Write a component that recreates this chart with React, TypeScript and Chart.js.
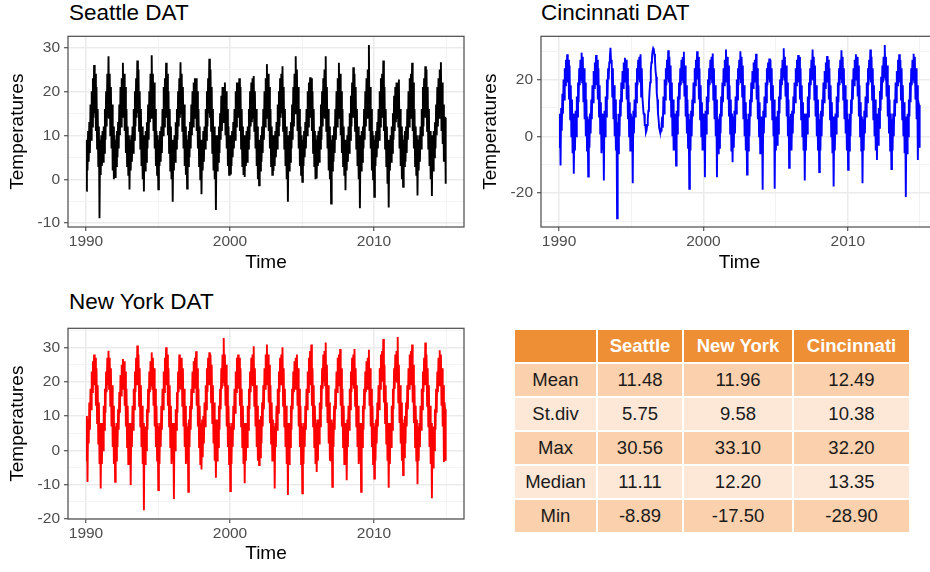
import React, { useEffect, useRef } from 'react';
import Chart from 'chart.js/auto';

// ---------- data ----------
const YEARS = [1990, 1991, 1992, 1993, 1994, 1995, 1996, 1997, 1998, 1999, 2000, 2001, 2002,
  2003, 2004, 2005, 2006, 2007, 2008, 2009, 2010, 2011, 2012, 2013, 2014];

// two readings per month (Jan..Dec, 24 per year), degrees C
const SEATTLE: number[][] = [
  [-2.6, 9, 2, 11, 4, 13, 6, 17, 9, 20, 12, 23, 14, 26.0, 15, 24, 11, 21, 7, 16, 3, 12, -8.89, 9],
  [1, 10, 3, 11, 4, 12, 6, 16, 9, 20, 12, 24, 14, 28.0, 14, 24, 10, 21, 7, 17, 2, 12, 0, 10],
  [0.5, 9, 3, 11, 5, 13, 7, 17, 10, 21, 12, 23, 15, 26.5, 14, 24, 11, 21, 6, 16, 3, 12, 1, 10],
  [-2.3, 9, 2, 10, 4, 12, 6, 16, 9, 20, 12, 23, 14, 27.0, 15, 25, 11, 20, 7, 16, 3, 12, 0, 9],
  [-2.8, 10, 2, 11, 4, 13, 7, 17, 9, 20, 13, 24, 14, 28.2, 14, 24, 11, 22, 7, 16, 3, 11, 1, 10],
  [-2.3, 9, 3, 11, 4, 12, 6, 16, 10, 21, 12, 23, 15, 26.5, 14, 24, 10, 20, 6, 16, 2, 12, 0, 9],
  [-5.1, 8, 2, 10, 4, 13, 7, 16, 9, 20, 12, 23, 14, 26.6, 15, 24, 11, 21, 7, 17, 3, 12, 1, 10],
  [-2.1, 9, 3, 11, 5, 13, 7, 17, 10, 20, 12, 22, 14, 23.0, 14, 23, 11, 20, 7, 16, 3, 12, 0, 9],
  [-3.4, 9, 2, 11, 4, 12, 7, 16, 9, 20, 12, 23, 15, 27.4, 14, 25, 11, 21, 6, 16, 2, 12, 0, 10],
  [-7.0, 9, 2, 10, 4, 12, 6, 15, 9, 19, 11, 21, 13, 21, 14, 22.0, 10, 20, 7, 16, 3, 12, 1, 10],
  [1.3, 10, 3, 11, 5, 13, 7, 16, 9, 20, 12, 22, 14, 22, 14, 23.0, 11, 21, 7, 16, 3, 12, 1, 10],
  [0.5, 9, 3, 11, 4, 12, 7, 16, 9, 20, 12, 22, 13, 23, 14, 23.5, 11, 20, 7, 16, 3, 12, 0, 9],
  [-1.4, 9, 2, 10, 4, 12, 6, 16, 9, 20, 12, 23, 14, 26.2, 15, 24, 11, 21, 7, 16, 3, 12, 1, 10],
  [1.9, 10, 3, 11, 5, 13, 7, 17, 10, 20, 12, 23, 14, 24, 15, 25.7, 11, 21, 7, 16, 3, 12, 0, 10],
  [-5.1, 9, 2, 11, 4, 13, 7, 17, 9, 21, 12, 24, 15, 28.0, 15, 25, 11, 21, 7, 16, 3, 12, 1, 10],
  [-0.6, 9, 3, 11, 5, 13, 7, 16, 10, 20, 12, 22, 14, 23.2, 14, 23, 11, 20, 6, 16, 3, 11, 0, 9],
  [0.2, 10, 3, 11, 4, 12, 7, 17, 9, 20, 12, 23, 14, 25, 14, 28.0, 11, 21, 7, 16, 2, 12, 0, 10],
  [-5.5, 9, 2, 10, 4, 12, 6, 16, 9, 20, 12, 23, 14, 26.5, 14, 24, 10, 20, 6, 16, 3, 12, 1, 9],
  [-2.5, 9, 2, 10, 4, 12, 6, 15, 9, 19, 12, 22, 14, 25.5, 14, 24, 11, 21, 7, 16, 3, 12, 0, 10],
  [-6.6, 9, 2, 11, 4, 12, 7, 16, 9, 20, 12, 23, 14, 25, 15, 30.56, 11, 21, 7, 16, 2, 11, 0, 10],
  [-4.0, 9, 3, 11, 5, 13, 7, 16, 9, 20, 12, 23, 14, 24, 14, 27.0, 11, 21, 7, 16, 3, 12, -1, 9],
  [-6.4, 9, 2, 10, 4, 12, 6, 15, 9, 19, 11, 21, 13, 22, 14, 22, 12, 22.7, 7, 16, 3, 12, 0, 10],
  [-1.7, 9, 3, 11, 4, 12, 6, 16, 9, 20, 12, 23, 14, 24, 15, 26.5, 11, 22, 7, 16, 3, 12, 1, 10],
  [-3.7, 9, 2, 10, 4, 12, 7, 16, 10, 21, 12, 23, 14, 25.7, 14, 25, 11, 21, 7, 16, 3, 11, 0, 10],
  [-3.8, 9, 2, 11, 5, 13, 7, 17, 10, 21, 12, 23, 14, 25, 15, 26.6, 11, 22, 8, 17, 4, 14, 14, -1.0],
];

const CINCINNATI: number[][] = [
  [-4, 8, -10.3, 10, 2, 15, 8, 20, 13, 24, 18, 27, 20, 28.9, 19, 27, 13, 25, 6, 18, 0, 13, -6, 8],
  [-13.2, 5, -5, 9, 0, 14, 7, 19, 12, 24, 18, 27, 20, 29.5, 19, 28, 12, 24, 6, 19, 0, 13, -5, 7],
  [-14.2, 6, -4, 8, 1, 13, 6, 18, 12, 23, 17, 26, 19, 28.7, 18, 27, 13, 24, 7, 18, 1, 12, -6, 8],
  [-5, 7, -15.6, 9, 0, 14, 7, 20, 13, 24, 20, 26, 28, 31.2, 26, 27, 14, 24, 6, 18, 0, 13, -5, 8],
  [-28.9, 5, -6, 8, 0, 13, 7, 19, 12, 23, 17, 26, 20, 27.7, 19, 27, 13, 24, 6, 18, 0, 12, -5, 8],
  [-4, 7, -16.5, 9, 1, 13, 7, 19, 12, 24, 18, 27, 20, 28, 19, 28.9, 14, 24, 14, 14, 8, 8, 4, 4],
  [1.4, 2, 4, 6, 9, 12, 16, 19, 23, 26, 28, 30, 31.0, 30.5, 29, 27, 23, 21, 15, 13, 8, 6, 3, 2],
  [1.2, 2, 4, 7, 3, 14, 8, 20, 13, 24, 18, 27, 20, 30.3, 19, 28, 13, 25, 7, 19, 0, 13, -5, 8],
  [-5, 7, -10.3, 9, 1, 14, 7, 19, 13, 24, 18, 27, 20, 28, 19, 29.8, 14, 25, 7, 18, 1, 13, -4, 8],
  [-18.5, 6, -5, 9, 0, 13, 7, 19, 12, 24, 18, 27, 20, 30.0, 20, 28, 13, 24, 6, 18, 0, 12, -5, 8],
  [-5, 7, -14.4, 9, 1, 14, 8, 20, 12, 24, 18, 27, 20, 28, 19, 29.2, 13, 24, 6, 18, 0, 13, -14.4, 7],
  [-6, 6, -4, 8, 1, 14, 7, 19, 12, 24, 18, 27, 20, 30.6, 19, 28, 13, 25, 7, 18, 1, 13, -5, 8],
  [-9.1, 7, -4, 9, 1, 14, 8, 20, 13, 24, 18, 27, 20, 30.0, 19, 28, 14, 25, 6, 18, 0, 12, -5, 8],
  [-13.5, 6, -5, 8, 0, 13, 7, 19, 12, 23, 17, 26, 20, 27, 19, 29.1, 13, 24, 6, 18, 0, 12, -6, 7],
  [-5, 7, -18.8, 9, 1, 14, 7, 19, 12, 24, 18, 26, 20, 27.4, 19, 27, 13, 24, 6, 18, 0, 13, -18.5, 7],
  [-5, 7, -3, 9, 1, 14, 8, 20, 13, 24, 18, 27, 21, 31.0, 20, 28, 14, 25, 7, 19, 0, 13, -11.1, 7],
  [-4, 8, -5, 9, 1, 14, 8, 19, 12, 24, 18, 27, 20, 28.7, 19, 28, 13, 24, 6, 18, 0, 12, -5, 8],
  [-15.6, 6, -5, 8, 1, 14, 7, 19, 13, 24, 18, 27, 20, 30.6, 20, 28, 13, 25, 7, 18, 0, 13, -5, 8],
  [-12.6, 6, -5, 9, 0, 13, 7, 19, 12, 23, 17, 26, 20, 28.3, 19, 27, 13, 24, 6, 18, 0, 12, -6, 7],
  [-17.7, 6, -5, 8, 1, 14, 7, 19, 12, 24, 18, 27, 20, 30.3, 19, 28, 13, 24, 6, 18, 1, 13, -5, 8],
  [-11.8, 6, -5, 8, 0, 13, 8, 20, 13, 24, 18, 27, 20, 28.9, 20, 28, 14, 25, 7, 18, 0, 12, -5, 7],
  [-16.5, 6, -5, 9, 1, 14, 7, 19, 12, 24, 18, 27, 20, 30.6, 19, 28, 13, 24, 6, 18, 0, 13, -5, 8],
  [-8.3, 7, -3, 10, 3, 16, 9, 21, 13, 25, 19, 28, 21, 32.2, 20, 28, 14, 25, 7, 18, 1, 13, -5, 8],
  [-11.5, 6, -5, 8, 0, 13, 7, 19, 12, 23, 18, 27, 20, 28.9, 19, 27, 13, 24, 6, 18, 0, 12, -6, 7],
  [-21.4, 5, -6, 8, 0, 13, 7, 19, 12, 24, 18, 27, 20, 29.1, 19, 28, 13, 24, 6, 18, -8.3, 12, 11, -4],
];

const NEW_YORK: number[][] = [
  [-3, 10, -9.2, 9, 2, 14, 6, 18, 12, 23, 17, 26, 19, 28.0, 19, 27, 13, 24, 8, 19, 2, 14, -4, 8],
  [-11.1, 7, -4, 8, 0, 13, 6, 18, 11, 23, 17, 27, 19, 29.1, 18, 27, 13, 24, 7, 19, 1, 13, -4, 8],
  [-9.2, 7, -3, 8, 1, 12, 6, 17, 11, 22, 16, 25, 18, 26.7, 18, 26, 13, 23, 7, 18, 1, 13, -4, 8],
  [-3, 8, -10.1, 8, 1, 13, 6, 18, 12, 23, 17, 27, 19, 30.6, 19, 28, 13, 24, 7, 19, 1, 13, -4, 8],
  [-17.5, 6, -4, 7, 0, 12, 6, 18, 11, 23, 17, 26, 19, 28.6, 18, 27, 13, 24, 7, 18, 1, 13, -3, 8],
  [-11.6, 7, -4, 8, 1, 13, 6, 18, 12, 23, 17, 27, 19, 30.1, 19, 28, 13, 24, 7, 19, 1, 13, -4, 8],
  [-3, 8, -14.2, 8, 0, 12, 6, 17, 11, 23, 17, 28.0, 18, 27, 18, 27, 13, 24, 7, 18, 1, 13, -4, 8],
  [-3, 7, -12.1, 9, 1, 13, 6, 18, 12, 23, 17, 26, 19, 27, 18, 28.9, 13, 24, 7, 18, 1, 13, -4, 8],
  [-5.6, 9, -2, 10, 2, 14, 7, 19, 12, 24, 17, 27, 19, 28.6, 19, 28, 14, 25, 8, 19, 2, 14, -3, 9],
  [-8.0, 8, -3, 9, 1, 13, 6, 18, 12, 24, 18, 28, 20, 32.8, 19, 28, 13, 25, 7, 19, 1, 13, -4, 8],
  [-11.9, 7, -4, 8, 1, 13, 6, 18, 11, 23, 17, 27, 19, 28.0, 18, 27, 13, 24, 7, 18, 1, 13, -4, 8],
  [-9.6, 7, -3, 8, 1, 13, 6, 18, 12, 23, 17, 27, 19, 28, 19, 30.4, 13, 24, 7, 19, 1, 13, -3, 8],
  [-4.3, 9, -2, 10, 2, 14, 7, 19, 12, 24, 18, 28, 20, 30.9, 19, 28, 14, 25, 8, 19, 2, 14, -3, 9],
  [-3, 7, -11.1, 8, 1, 13, 6, 18, 11, 23, 17, 27, 19, 28, 19, 30.1, 13, 24, 7, 18, 1, 13, -4, 8],
  [-13.0, 6, -4, 8, 1, 13, 6, 18, 12, 23, 17, 26, 18, 27, 18, 28.0, 13, 24, 7, 18, 1, 13, -4, 8],
  [-12.5, 7, -4, 8, 1, 13, 6, 18, 12, 23, 17, 27, 19, 29, 19, 30.9, 13, 24, 7, 19, 1, 13, -4, 8],
  [-6.3, 9, -3, 9, 2, 14, 7, 19, 12, 24, 18, 28, 20, 29, 19, 31.5, 13, 25, 8, 19, 2, 14, -3, 9],
  [-3, 9, -10.6, 8, 1, 13, 6, 18, 12, 23, 17, 27, 19, 28, 19, 29.6, 13, 24, 7, 18, 1, 13, -4, 8],
  [-3, 8, -8.7, 9, 1, 13, 6, 18, 12, 23, 17, 27, 19, 28, 18, 29.6, 13, 24, 7, 19, 1, 13, -4, 8],
  [-3, 7, -12.1, 8, 1, 13, 6, 18, 12, 23, 17, 26, 18, 27, 19, 29.4, 13, 24, 7, 18, 1, 13, -4, 8],
  [-8.2, 7, -3, 9, 2, 14, 7, 19, 12, 24, 18, 28, 20, 29, 20, 32.5, 14, 25, 8, 19, 2, 14, -3, 8],
  [-10.9, 7, -4, 8, 1, 13, 6, 18, 12, 24, 18, 28, 20, 29, 20, 33.1, 14, 25, 8, 19, 2, 14, -3, 9],
  [-7.2, 8, -2, 10, 2, 14, 7, 19, 12, 24, 18, 28, 20, 29, 19, 30.9, 14, 25, 8, 19, 1, 13, -3, 9],
  [-9.9, 7, -3, 8, 1, 13, 6, 18, 12, 23, 17, 27, 19, 31.5, 19, 28, 13, 24, 7, 19, 1, 13, -4, 8],
  [-14.0, 6, -5, 7, 0, 12, 6, 18, 11, 23, 17, 27, 19, 29.2, 19, 28, 13, 24, 7, 19, -3.4, 14, 12, -3],
];

const X_TICKS = [1990, 1995, 2000, 2005, 2010, 2015];
const X_LABELS = [1990, 2000, 2010];
const SEATTLE_Y_TICKS = [-10, -5, 0, 5, 10, 15, 20, 25, 30];
const SEATTLE_Y_LABELS = [-10, 0, 10, 20, 30];
const CINCINNATI_Y_TICKS = [-30, -20, -10, 0, 10, 20, 30];
const CINCINNATI_Y_LABELS = [-20, 0, 20];
const NEW_YORK_Y_TICKS = [-20, -15, -10, -5, 0, 5, 10, 15, 20, 25, 30, 35];
const NEW_YORK_Y_LABELS = [-20, -10, 0, 10, 20, 30];

const TABLE_HEADERS = ['Seattle', 'New York', 'Cincinnati'];
const STAT_NAMES = ['Mean', 'St.div', 'Max', 'Median', 'Min'];
const SEATTLE_STATS = ['11.48', '5.75', '30.56', '11.11', '-8.89'];
const NEW_YORK_STATS = ['11.96', '9.58', '33.10', '12.20', '-17.50'];
const CINCINNATI_STATS = ['12.49', '10.38', '32.20', '13.35', '-28.90'];

// ---------- styling ----------
const FONT = '"Liberation Sans", Arial, Helvetica, sans-serif';
Chart.defaults.font.family = FONT;

const panelBorder = {
  id: 'panelBorder',
  afterDraw(chart: any) {
    const { ctx, chartArea: a } = chart;
    ctx.save();
    ctx.strokeStyle = '#4a4a4a';
    ctx.lineWidth = 1.2;
    ctx.strokeRect(a.left, a.top, a.right - a.left, a.bottom - a.top);
    ctx.restore();
  },
};

type Box = { left: number; top: number; w: number; h: number; yW: number; xH: number; padR: number; padT: number; yTitlePad: number; xTitlePad: number };

function Panel({ values, color, yTicks, yLabels, box }: { values: number[][]; color: string; yTicks: number[]; yLabels: number[]; box: Box }) {
  const ref = useRef<HTMLCanvasElement>(null);
  useEffect(() => {
    const flat = values.flat();
    const perYear = values[0].length;
    const pts = flat.map((v, i) => ({ x: YEARS[0] + (i + 0.5) / perYear, y: v }));
    const lo = Math.min(...flat);
    const hi = Math.max(...flat);
    const yPad = (hi - lo) * 0.05;
    const x0 = YEARS[0];
    const x1 = YEARS[YEARS.length - 1] + 1;
    const xPad = (x1 - x0) * 0.05;
    const isMajorX = (v: number) => X_LABELS.includes(v);
    const isMajorY = (v: number) => yLabels.includes(v);
    const chart = new Chart(ref.current as HTMLCanvasElement, {
      type: 'line',
      data: {
        datasets: [{
          data: pts,
          borderColor: color,
          borderWidth: 1.9,
          pointRadius: 0,
          tension: 0,
          fill: false,
        }],
      },
      options: {
        animation: false,
        responsive: false,
        maintainAspectRatio: false,
        devicePixelRatio: 1,
        layout: { padding: { top: box.padT, right: box.padR, bottom: 0, left: 0 } },
        plugins: { legend: { display: false }, tooltip: { enabled: false }, title: { display: false } },
        scales: {
          x: {
            type: 'linear',
            min: x0 - xPad,
            max: x1 + xPad,
            afterBuildTicks: (s: any) => { s.ticks = X_TICKS.map((v) => ({ value: v })); },
            afterFit: (s: any) => { s.height = box.xH; },
            ticks: {
              autoSkip: false, maxRotation: 0, padding: 1, color: '#4d4d4d', font: { size: 15.5 },
              callback: (v: any) => (isMajorX(Number(v)) ? String(v) : ''),
            },
            grid: {
              color: (c: any) => (isMajorX(c.tick?.value) ? '#ebebeb' : '#f3f3f3'),
              lineWidth: (c: any) => (isMajorX(c.tick?.value) ? 1.5 : 1),
              tickLength: 4,
              tickColor: (c: any) => (isMajorX(c.tick?.value) ? '#333333' : 'rgba(0,0,0,0)'),
              tickWidth: 1,
            },
            border: { display: false },
            title: { display: true, text: 'Time', color: '#000', font: { size: 19 }, padding: { top: 0, bottom: box.xTitlePad } },
          },
          y: {
            type: 'linear',
            min: lo - yPad,
            max: hi + yPad,
            afterBuildTicks: (s: any) => { s.ticks = yTicks.map((v) => ({ value: v })); },
            afterFit: (s: any) => { s.width = box.yW; },
            ticks: {
              autoSkip: false, padding: 4, color: '#4d4d4d', font: { size: 15.5 },
              callback: (v: any) => (isMajorY(Number(v)) ? String(v) : ''),
            },
            grid: {
              color: (c: any) => (isMajorY(c.tick?.value) ? '#ebebeb' : '#f3f3f3'),
              lineWidth: (c: any) => (isMajorY(c.tick?.value) ? 1.5 : 1),
              tickLength: 4,
              tickColor: (c: any) => (isMajorY(c.tick?.value) ? '#333333' : 'rgba(0,0,0,0)'),
              tickWidth: 1,
            },
            border: { display: false },
            title: { display: true, text: 'Temperatures', color: '#000', font: { size: 19 }, padding: { top: box.yTitlePad, bottom: 0 } },
          },
        },
      },
      plugins: [panelBorder],
    } as any);
    return () => chart.destroy();
  }, []);
  return (
    <canvas
      ref={ref}
      width={box.w}
      height={box.h}
      style={{ position: 'absolute', left: box.left, top: box.top, width: box.w, height: box.h }}
    />
  );
}

const titleStyle = (left: number, top: number): React.CSSProperties => ({
  position: 'absolute', left, top, fontSize: 22.5, lineHeight: '1', color: '#000', fontFamily: FONT, whiteSpace: 'nowrap',
});

const cellBorder = '2px solid #ffffff';

export default function App() {
  const statCols = [SEATTLE_STATS, NEW_YORK_STATS, CINCINNATI_STATS];
  return (
    <div style={{ position: 'absolute', left: 0, top: 0, width: 930, height: 572, overflow: 'hidden', background: '#fff', fontFamily: FONT }}>
      <div style={titleStyle(69, 2)}>Seattle DAT</div>
      <div style={titleStyle(541, 2)}>Cincinnati DAT</div>
      <div style={titleStyle(69, 291)}>New York DAT</div>
      <Panel values={SEATTLE} color="#000000" yTicks={SEATTLE_Y_TICKS} yLabels={SEATTLE_Y_LABELS}
        box={{ left: 0, top: 23, w: 470, h: 257, yW: 68, xH: 53, padR: 6, padT: 12, yTitlePad: 6, xTitlePad: 6 }} />
      <Panel values={CINCINNATI} color="#0000ff" yTicks={CINCINNATI_Y_TICKS} yLabels={CINCINNATI_Y_LABELS}
        box={{ left: 472, top: 23, w: 470, h: 257, yW: 69, xH: 53, padR: 4, padT: 12, yTitlePad: 7, xTitlePad: 6 }} />
      <Panel values={NEW_YORK} color="#ff0000" yTicks={NEW_YORK_Y_TICKS} yLabels={NEW_YORK_Y_LABELS}
        box={{ left: 0, top: 315, w: 470, h: 257, yW: 68, xH: 53, padR: 6, padT: 12, yTitlePad: 6, xTitlePad: 7 }} />
      <table style={{
        position: 'absolute', left: 513, top: 328, width: 396, borderCollapse: 'collapse', tableLayout: 'fixed',
        fontFamily: FONT, fontSize: 18.5, color: '#1a1a1a', textAlign: 'center',
      }}>
        <colgroup>
          <col style={{ width: 83 }} />
          <col style={{ width: 86 }} />
          <col style={{ width: 110 }} />
          <col style={{ width: 117 }} />
        </colgroup>
        <thead>
          <tr style={{ height: 34, background: '#ee8f35' }}>
            <th style={{ border: cellBorder, padding: 0 }} />
            {TABLE_HEADERS.map((h) => (
              <th key={h} style={{ border: cellBorder, padding: 0, color: '#ffffff', fontWeight: 'bold' }}>{h}</th>
            ))}
          </tr>
        </thead>
        <tbody>
          {STAT_NAMES.map((s, i) => (
            <tr key={s} style={{ height: 34, background: i % 2 === 0 ? '#fbd0ad' : '#fde8d8' }}>
              <td style={{ border: cellBorder, padding: 0 }}>{s}</td>
              {statCols.map((col, j) => (
                <td key={j} style={{ border: cellBorder, padding: 0 }}>{col[i]}</td>
              ))}
            </tr>
          ))}
        </tbody>
      </table>
    </div>
  );
}
